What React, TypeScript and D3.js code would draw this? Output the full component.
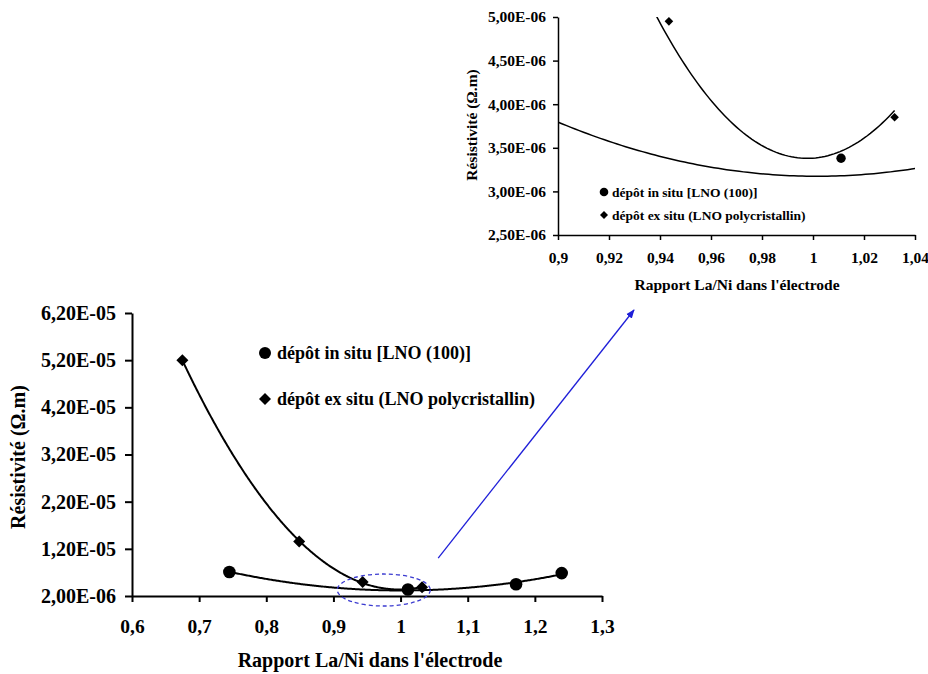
import React, { useEffect, useRef } from 'react';
import * as d3 from 'd3';

// ---- data ----
const inSituX = [0.745, 1.011, 1.172, 1.24];
const inSituY = [7.1e-6, 3.38e-6, 4.5e-6, 6.85e-6];
const exSituX = [0.675, 0.849, 0.9435, 1.032];
const exSituY = [5.2e-5, 1.355e-5, 4.95e-6, 3.85e-6];

const mainXTicks = [0.6, 0.7, 0.8, 0.9, 1.0, 1.1, 1.2, 1.3];
const mainYTicks = [2e-6, 1.2e-5, 2.2e-5, 3.2e-5, 4.2e-5, 5.2e-5, 6.2e-5];
const insetXTicks = [0.9, 0.92, 0.94, 0.96, 0.98, 1.0, 1.02, 1.04];
const insetYTicks = [2.5e-6, 3e-6, 3.5e-6, 4e-6, 4.5e-6, 5e-6];
const legendLabels = ['dépôt in situ [LNO (100)]', 'dépôt ex situ (LNO polycristallin)'];
const xTitle = "Rapport La/Ni dans l'électrode";
const yTitle = 'Résistivité (Ω.m)';

const FONT = '"Liberation Serif", "Times New Roman", serif';

const fmtX = (v: number) => String(+v.toFixed(2)).replace('.', ',');
const fmtE = (v: number) => {
  const [m, e] = v.toExponential(2).split('e');
  const n = parseInt(e, 10);
  const es = (n < 0 ? '-' : '+') + String(Math.abs(n)).padStart(2, '0');
  return m.replace('.', ',') + 'E' + es;
};

// least-squares quadratic trend line (as in a spreadsheet trendline)
function fitQuad(xs: number[], ys: number[]) {
  const mx = d3.mean(xs) as number;
  const u = xs.map((x) => x - mx);
  const S = (k: number) => d3.sum(u, (v) => Math.pow(v, k));
  const T = (k: number) => d3.sum(u, (v, i) => Math.pow(v, k) * ys[i]);
  const A = [
    [S(0), S(1), S(2), T(0)],
    [S(1), S(2), S(3), T(1)],
    [S(2), S(3), S(4), T(2)],
  ];
  for (let c = 0; c < 3; c++) {
    for (let r = c + 1; r < 3; r++) {
      const f = A[r][c] / A[c][c];
      for (let k = c; k < 4; k++) A[r][k] -= f * A[c][k];
    }
  }
  const b = [0, 0, 0];
  for (let r = 2; r >= 0; r--) {
    let s = A[r][3];
    for (let k = r + 1; k < 3; k++) s -= A[r][k] * b[k];
    b[r] = s / A[r][r];
  }
  return (x: number) => b[0] + b[1] * (x - mx) + b[2] * (x - mx) * (x - mx);
}

const inSituFit = fitQuad(inSituX, inSituY);
const exSituFit = fitQuad(exSituX, exSituY);

function trend(xs: number[], f: (x: number) => number) {
  const x0 = d3.min(xs) as number;
  const x1 = d3.max(xs) as number;
  const n = 300;
  return d3.range(n + 1).map((i) => {
    const x = x0 + ((x1 - x0) * i) / n;
    return [x, f(x)] as [number, number];
  });
}

// ---- scales ----
const mx = d3.scaleLinear().domain([0.6, 1.3]).range([132, 602]);
const my = d3.scaleLinear().domain([2e-6, 6.2e-5]).range([596, 313]);
const ix = d3.scaleLinear().domain([0.9, 1.04]).range([558, 915]);
const iy = d3.scaleLinear().domain([2.5e-6, 5e-6]).range([235, 17]);

const circleSym = (r: number) => d3.symbol(d3.symbolCircle, Math.PI * r * r)() as string;
const diamondSym = (h: number) => d3.symbol(d3.symbolSquare, 2 * h * h)() as string;

export default function App() {
  const mainXRef = useRef<SVGGElement>(null);
  const mainYRef = useRef<SVGGElement>(null);
  const insXRef = useRef<SVGGElement>(null);
  const insYRef = useRef<SVGGElement>(null);

  useEffect(() => {
    const style = (g: d3.Selection<SVGGElement, unknown, null, undefined>, fs: number, sw: number) => {
      g.selectAll('text')
        .attr('font-family', FONT)
        .attr('font-weight', 'bold')
        .attr('font-size', fs)
        .attr('fill', '#000');
      g.selectAll('path.domain').attr('stroke', '#000').attr('stroke-width', sw);
      g.selectAll('line').attr('stroke', '#000').attr('stroke-width', sw);
      g.attr('font-size', null).attr('font-family', null);
    };
    const gx = d3.select(mainXRef.current as SVGGElement);
    gx.call(d3.axisBottom(mx).tickValues(mainXTicks).tickFormat((d) => fmtX(+d)).tickSize(6).tickSizeOuter(0).tickPadding(17));
    style(gx, 19.5, 2);
    const gy = d3.select(mainYRef.current as SVGGElement);
    gy.call(d3.axisLeft(my).tickValues(mainYTicks).tickFormat((d) => fmtE(+d)).tickSize(7).tickSizeOuter(0).tickPadding(9));
    style(gy, 20, 2);
    const ixg = d3.select(insXRef.current as SVGGElement);
    ixg.call(d3.axisBottom(ix).tickValues(insetXTicks).tickFormat((d) => fmtX(+d)).tickSize(5).tickSizeOuter(0).tickPadding(12));
    style(ixg, 15.5, 1.5);
    const iyg = d3.select(insYRef.current as SVGGElement);
    iyg.call(d3.axisLeft(iy).tickValues(insetYTicks).tickFormat((d) => fmtE(+d)).tickSize(5).tickSizeOuter(0).tickPadding(7));
    style(iyg, 15.5, 1.5);
  }, []);

  const mainLine = d3.line<[number, number]>().x((d) => mx(d[0])).y((d) => my(d[1]));
  const insLine = d3.line<[number, number]>().x((d) => ix(d[0])).y((d) => iy(d[1]));

  const inTrend = trend(inSituX, inSituFit);
  const exTrend = trend(exSituX, exSituFit);

  const inInset = (x: number, y: number) => x >= 0.9 && x <= 1.04 && y >= 2.5e-6 && y <= 5e-6;

  // annotation: dashed ellipse around the minimum region, arrow toward the inset
  const ellCx = mx(0.975);
  const ellCy = my(3.27e-6);
  const arrowFrom = [mx(1.056), my(1.005e-5)];
  const arrowTo = [634, 310];

  return (
    <svg
      width={928}
      height={674}
      viewBox="0 0 928 674"
      style={{ position: 'absolute', left: 0, top: 0, display: 'block', background: '#fff' }}
    >
      <defs>
        <clipPath id="insetClip">
          <rect x={ix(0.9)} y={iy(5e-6)} width={ix(1.04) - ix(0.9)} height={iy(2.5e-6) - iy(5e-6)} />
        </clipPath>
        <marker id="arrowHead" viewBox="0 0 10 10" refX="9" refY="5" markerWidth="9" markerHeight="9" orient="auto" markerUnits="userSpaceOnUse">
          <path d="M0,1 L10,5 L0,9 Z" fill="#1f1fd8" />
        </marker>
      </defs>
      <rect width={928} height={674} fill="#fff" />

      {/* ---------- main chart ---------- */}
      <g>
        <path d={mainLine(exTrend) as string} fill="none" stroke="#000" strokeWidth={2} />
        <path d={mainLine(inTrend) as string} fill="none" stroke="#000" strokeWidth={2} />
        <g ref={mainXRef} transform={`translate(0,${my(2e-6)})`} />
        <g ref={mainYRef} transform={`translate(${mx(0.6)},0)`} />
        {exSituX.map((x, i) => (
          <path key={'ed' + i} d={diamondSym(6)} transform={`translate(${mx(x)},${my(exSituY[i])}) rotate(45)`} fill="#000" />
        ))}
        {inSituX.map((x, i) => (
          <path key={'ic' + i} d={circleSym(6.3)} transform={`translate(${mx(x)},${my(inSituY[i])})`} fill="#000" />
        ))}
        {/* legend */}
        <path d={circleSym(6)} transform="translate(265,353)" fill="#000" />
        <text x={277} y={359} fontFamily={FONT} fontWeight="bold" fontSize={18}>{legendLabels[0]}</text>
        <path d={diamondSym(6)} transform="translate(265,399) rotate(45)" fill="#000" />
        <text x={277} y={405} fontFamily={FONT} fontWeight="bold" fontSize={18}>{legendLabels[1]}</text>
        {/* titles */}
        <text x={370} y={667} textAnchor="middle" fontFamily={FONT} fontWeight="bold" fontSize={20}>{xTitle}</text>
        <text transform="translate(25,457) rotate(-90)" textAnchor="middle" fontFamily={FONT} fontWeight="bold" fontSize={20}>{yTitle}</text>
        {/* annotation */}
        <ellipse cx={ellCx} cy={ellCy} rx={46.5} ry={16} fill="none" stroke="#3b3bd0" strokeWidth={1.3} strokeDasharray="4,3" />
        <line x1={arrowFrom[0]} y1={arrowFrom[1]} x2={arrowTo[0]} y2={arrowTo[1]} stroke="#1f1fd8" strokeWidth={1.3} markerEnd="url(#arrowHead)" />
      </g>

      {/* ---------- inset chart ---------- */}
      <g>
        <g clipPath="url(#insetClip)">
          <path d={insLine(exTrend) as string} fill="none" stroke="#000" strokeWidth={1.5} />
          <path d={insLine(inTrend) as string} fill="none" stroke="#000" strokeWidth={1.5} />
        </g>
        <g ref={insXRef} transform={`translate(0,${iy(2.5e-6)})`} />
        <g ref={insYRef} transform={`translate(${ix(0.9)},0)`} />
        {exSituX.map((x, i) =>
          inInset(x, exSituY[i]) ? (
            <path key={'ied' + i} d={diamondSym(4.3)} transform={`translate(${ix(x)},${iy(exSituY[i])}) rotate(45)`} fill="#000" />
          ) : null
        )}
        {inSituX.map((x, i) =>
          inInset(x, inSituY[i]) ? (
            <path key={'iic' + i} d={circleSym(4.7)} transform={`translate(${ix(x)},${iy(inSituY[i])})`} fill="#000" />
          ) : null
        )}
        {/* legend */}
        <path d={circleSym(4.3)} transform="translate(604,192)" fill="#000" />
        <text x={612} y={197} fontFamily={FONT} fontWeight="bold" fontSize={13.5}>{legendLabels[0]}</text>
        <path d={diamondSym(4)} transform="translate(604,215) rotate(45)" fill="#000" />
        <text x={612} y={220} fontFamily={FONT} fontWeight="bold" fontSize={13.5}>{legendLabels[1]}</text>
        {/* titles */}
        <text x={737} y={290} textAnchor="middle" fontFamily={FONT} fontWeight="bold" fontSize={15.5}>{xTitle}</text>
        <text transform="translate(477,125) rotate(-90)" textAnchor="middle" fontFamily={FONT} fontWeight="bold" fontSize={15.5}>{yTitle}</text>
      </g>
    </svg>
  );
}
